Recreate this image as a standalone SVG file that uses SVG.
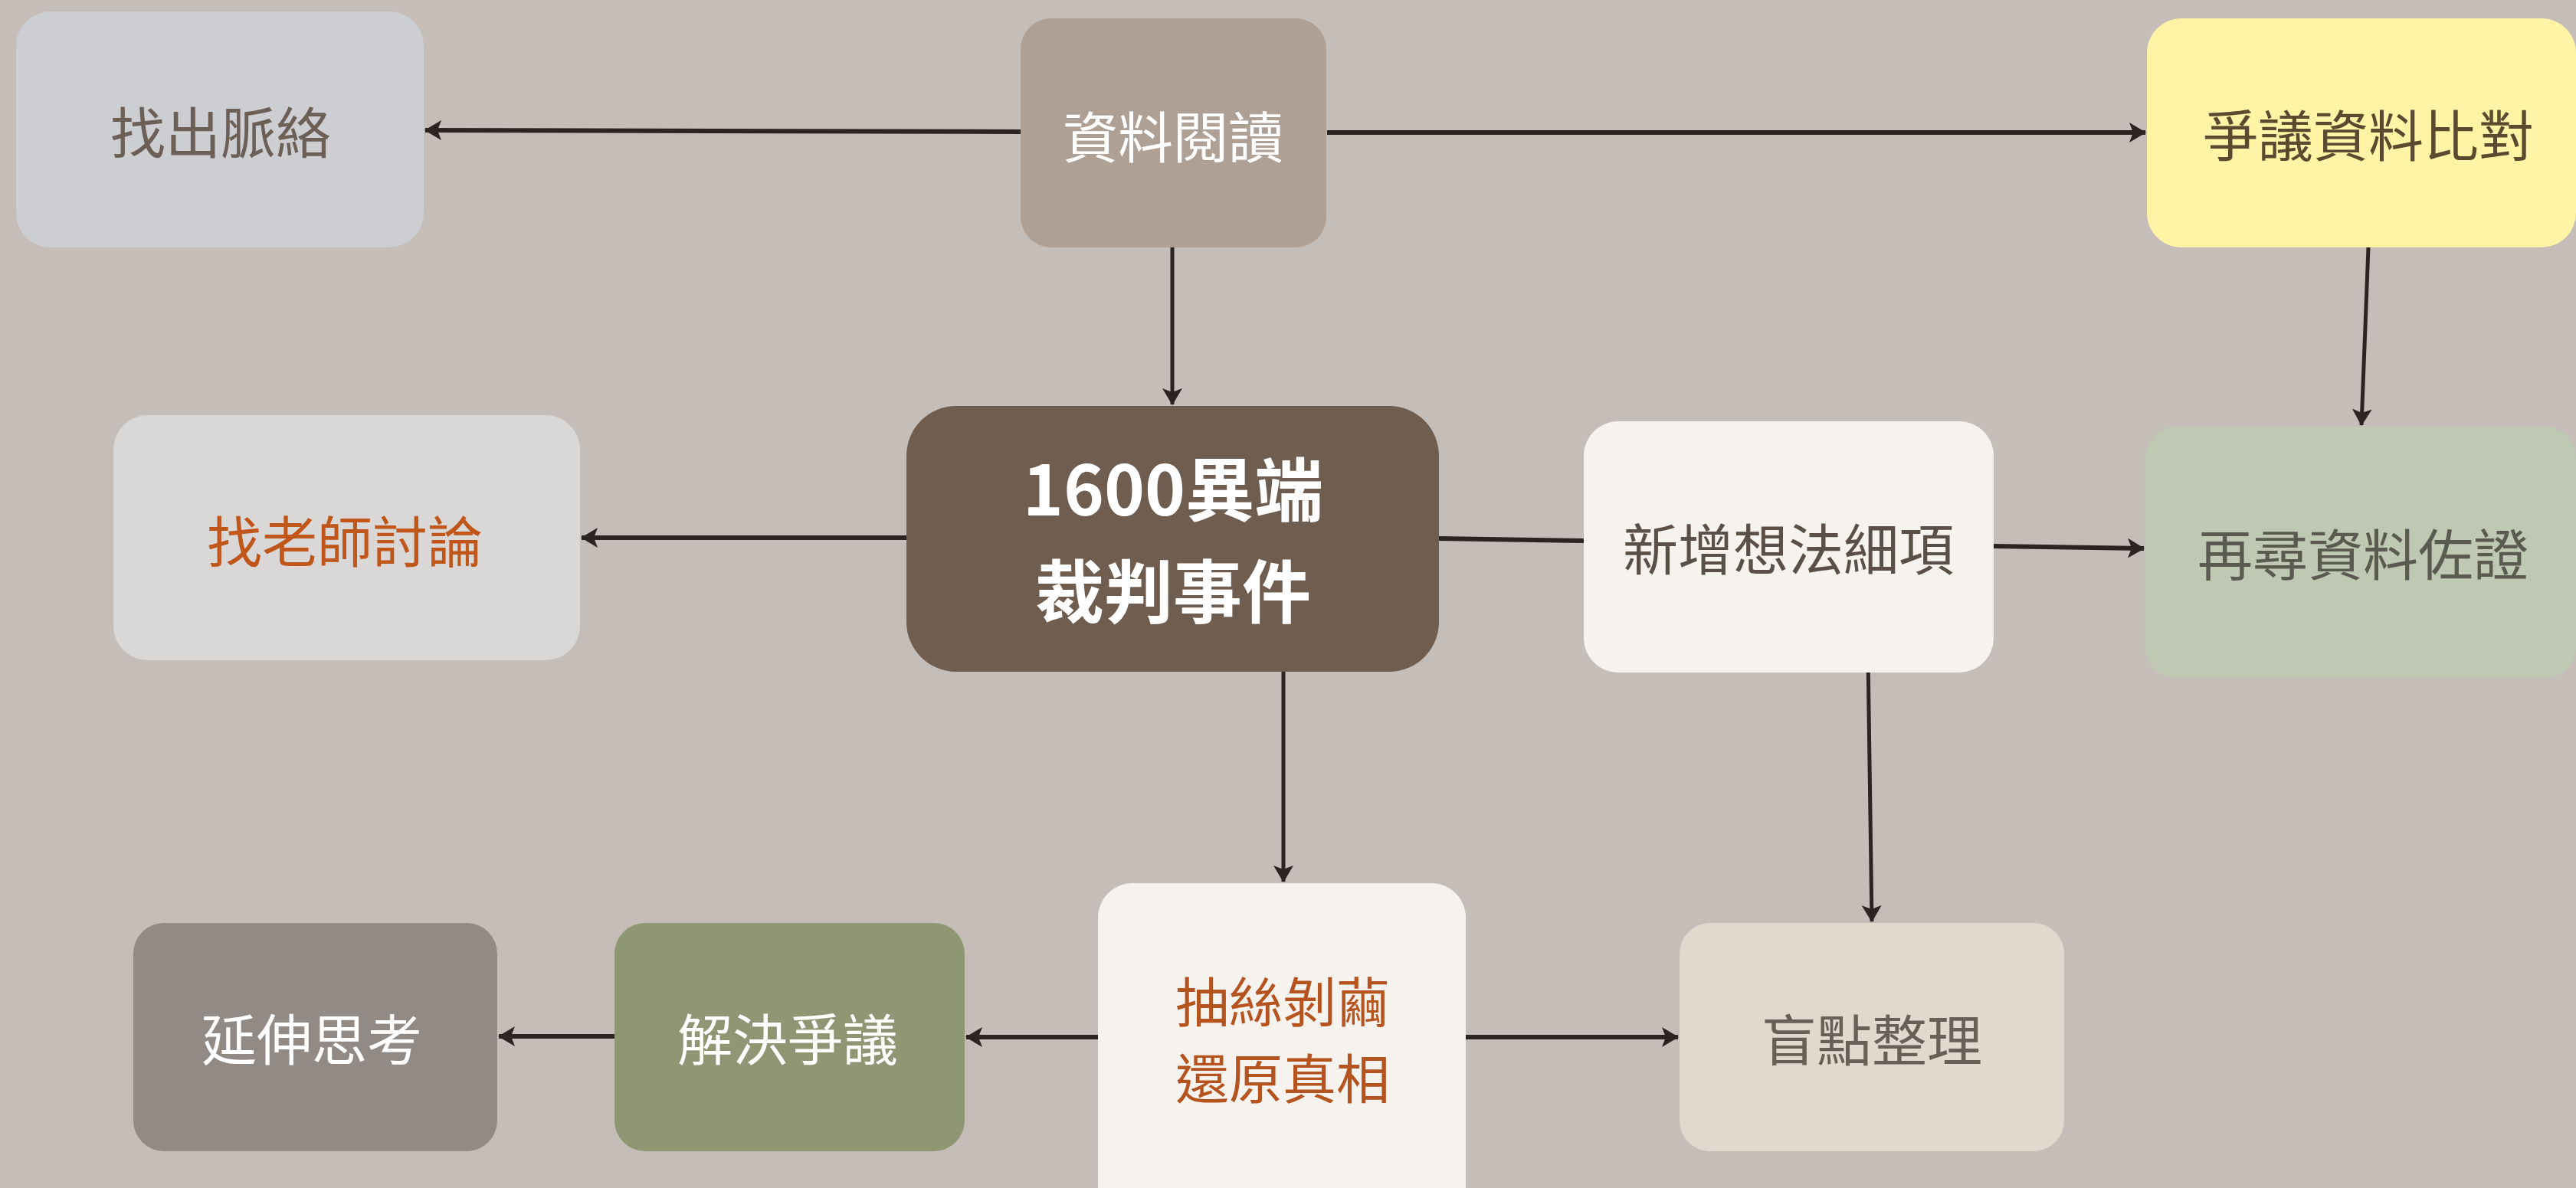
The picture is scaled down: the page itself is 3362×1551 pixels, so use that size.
<svg xmlns="http://www.w3.org/2000/svg" width="3362" height="1551" viewBox="0 0 3362 1551">
<defs>
<marker id="arr" markerUnits="userSpaceOnUse" markerWidth="26" markerHeight="28" refX="21" refY="13" orient="auto">
<path d="M0,0 L22,13 L0,26 L5,13 z" fill="#2B2420"/>
</marker>
<style>
.t{font-family:"Noto Sans CJK TC","Noto Sans CJK SC",sans-serif;font-size:72px;text-anchor:middle}
.b{font-weight:700;font-size:90px}
.c{stroke:#2B2420;stroke-width:5;fill:none}
.h{stroke-width:6}
.a{marker-end:url(#arr)}
</style>
</defs>
<rect width="3362" height="1551" fill="#C5BDB7"/>
<g id="connectors">
<line class="c h a" x1="1332" y1="172" x2="555" y2="170"/>
<line class="c h a" x1="1732" y1="173" x2="2800" y2="173"/>
<line class="c a" x1="1530" y1="323" x2="1530" y2="528"/>
<line class="c a" x1="3091" y1="323" x2="3082" y2="555"/>
<line class="c h a" x1="1183" y1="702" x2="759" y2="702"/>
<line class="c h" x1="1878" y1="703" x2="2068" y2="706"/>
<line class="c h a" x1="2602" y1="713" x2="2798" y2="716"/>
<line class="c a" x1="2438" y1="857" x2="2443" y2="1203"/>
<line class="c a" x1="1675" y1="877" x2="1675" y2="1151"/>
<line class="c h a" x1="1435" y1="1354" x2="1261" y2="1354"/>
<line class="c h a" x1="802" y1="1353" x2="651" y2="1353"/>
<line class="c h a" x1="1913" y1="1354" x2="2190" y2="1354"/>
</g>
<g id="n1"><rect x="21" y="15" width="532" height="308" rx="45" fill="#CDCED2"/><text class="t" x="288" y="200" fill="#6B5F56">找出脈絡</text></g>
<g id="n2"><rect x="1332" y="24" width="399" height="299" rx="40" fill="#AFA096"/><text class="t" x="1531" y="206" fill="#FFFFFF">資料閱讀</text></g>
<g id="n3"><rect x="2802" y="24" width="560" height="299" rx="45" fill="#FFF4A6"/><text class="t" x="3091" y="204" fill="#5A4A30">爭議資料比對</text></g>
<g id="n4"><rect x="148" y="542" width="609" height="320" rx="45" fill="#D9D8D7"/><text class="t" x="450" y="734" fill="#C0561A">找老師討論</text></g>
<g id="n5"><rect x="1183" y="530" width="695" height="347" rx="65" fill="#6F5D4F"/><text class="t b" x="1531" y="673" fill="#FFFFFF">1600異端</text><text class="t b" x="1531" y="806" fill="#FFFFFF">裁判事件</text></g>
<g id="n6"><rect x="2067" y="550" width="535" height="328" rx="45" fill="#F6F2EE"/><text class="t" x="2334" y="744" fill="#5A5048">新增想法細項</text></g>
<g id="n7"><rect x="2800" y="557" width="562" height="328" rx="40" fill="#BFC8B3"/><text class="t" x="3084" y="751" fill="#5A5A50">再尋資料佐證</text></g>
<g id="n8"><rect x="174" y="1205" width="475" height="298" rx="40" fill="#928A85"/><text class="t" x="407" y="1384" fill="#FFFFFF">延伸思考</text></g>
<g id="n9"><rect x="802" y="1205" width="457" height="298" rx="40" fill="#8F9673"/><text class="t" x="1028" y="1384" fill="#FFFFFF">解決爭議</text></g>
<g id="n10"><rect x="1433" y="1153" width="480" height="450" rx="45" fill="#F6F2EE"/><text class="t" x="1674" y="1335" fill="#B5541E" style="font-size:70px">抽絲剝繭</text><text class="t" x="1674" y="1435" fill="#B5541E" style="font-size:70px">還原真相</text></g>
<g id="n11"><rect x="2192" y="1205" width="502" height="298" rx="40" fill="#E1D9CE"/><text class="t" x="2443" y="1385" fill="#6A5F57">盲點整理</text></g>
</svg>
